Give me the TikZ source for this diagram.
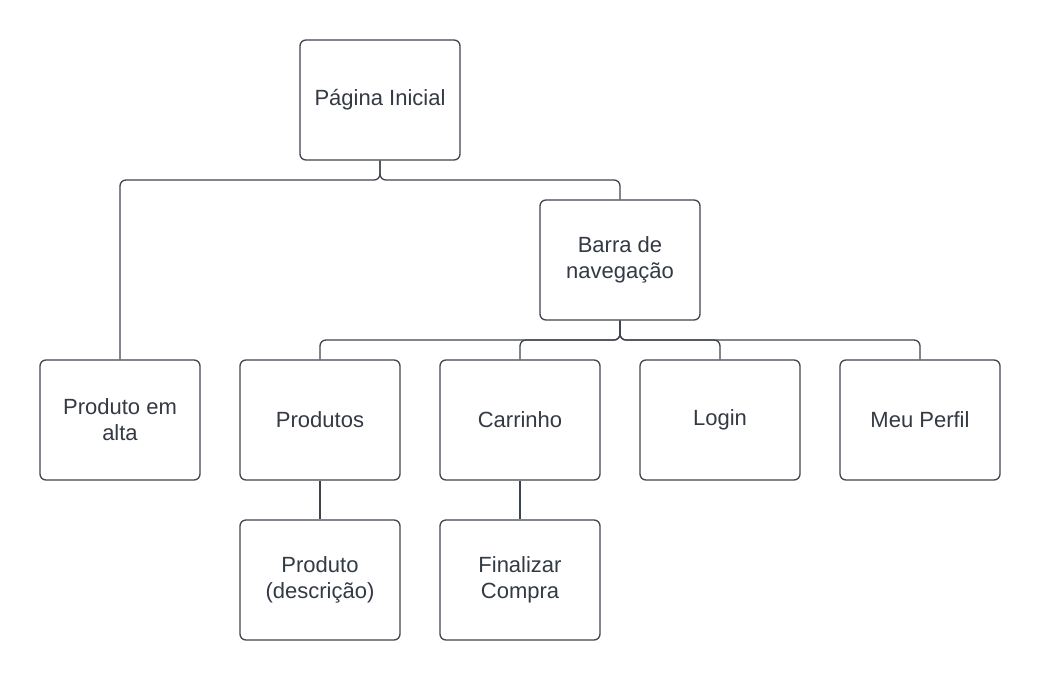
\documentclass[tikz,border=0pt]{standalone}
\usepackage{fontspec}
\setmainfont{Liberation Sans}
\definecolor{linegray}{HTML}{3F454D}
\definecolor{textgray}{HTML}{333A44}
\begin{document}
\begin{tikzpicture}[x=1pt,y=-1pt,
  box/.style={draw=linegray, line width=1.3pt, rounded corners=6pt, minimum width=160pt, minimum height=120pt, inner sep=0pt, align=center, text=textgray, font=\fontsize{22}{26}\selectfont, fill=white},
  conn/.style={draw=linegray, line width=1.3pt, rounded corners=6pt}]
\useasboundingbox[fill=white] (0,0) rectangle (1040,680);
\node[box] (pi) at (380,100) {Página Inicial};
\node[box] (bn) at (620,260) {Barra de\\navegação};
\node[box] (pa) at (120,420) {Produto em\\alta};
\node[box] (pr) at (320,420) {Produtos};
\node[box] (ca) at (520,420) {Carrinho};
\node[box] (lo) at (720,420) {Login};
\node[box] (mp) at (920,420) {Meu Perfil};
\node[box] (pd) at (320,580) {Produto\\(descrição)};
\node[box] (fc) at (520,580) {Finalizar\\Compra};
\coordinate (j1) at (380,180);
\coordinate (j2) at (620,340);
\draw[conn] (pi.south) -- (j1) -| (pa.north);
\draw[conn] (pi.south) -- (j1) -| (bn.north);
\draw[conn] (bn.south) -- (j2) -| (pr.north);
\draw[conn] (bn.south) -- (j2) -| (ca.north);
\draw[conn] (bn.south) -- (j2) -| (lo.north);
\draw[conn] (bn.south) -- (j2) -| (mp.north);
\draw[conn] (pr.south) -- (pd.north);
\draw[conn] (ca.south) -- (fc.north);
\end{tikzpicture}
\end{document}
